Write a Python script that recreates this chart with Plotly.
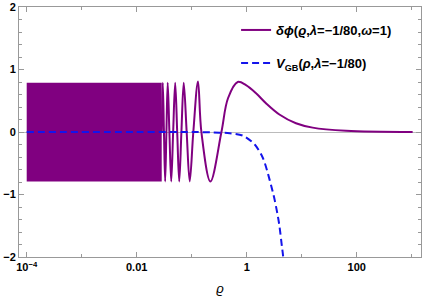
import plotly.graph_objects as go

# ---- data ----
# dense, unresolved oscillation band of delta-phi (rho range and envelope)
band_rho = [1e-4, 0.0285, 0.0285, 1e-4]
band_val = [0.79, 0.79, -0.79, -0.79]

# resolved part of delta-phi: extrema, zero crossings and tail
phi_rho = [0.0285, 0.0298, 0.0313, 0.0329, 0.0347, 0.0366, 0.0393, 0.0424, 0.046,
           0.0501, 0.0545, 0.0593, 0.065, 0.0716, 0.081, 0.092, 0.107, 0.130,
           0.150, 0.219, 0.347, 0.457, 0.686, 0.97, 1.48, 2.24, 3.93, 7.86,
           15.8, 64, 1040]
phi_val = [0.0, 0.79, 0.0, -0.79, 0.0, 0.79, 0.0, -0.79, 0.0,
           0.79, 0.0, -0.79, 0.0, 0.79, 0.0, -0.79, 0.0, 0.81,
           0.0, -0.79, 0.0, 0.54, 0.80, 0.75, 0.62, 0.46, 0.28, 0.14,
           0.07, 0.02, 0.0]

# V_GB potential
v_rho = [1e-4, 0.01, 0.1, 0.32, 0.49, 0.857, 1.40, 1.98, 2.62, 3.23, 3.87, 4.38, 4.57, 4.8]
v_val = [0.0, 0.0, 0.0, -0.01, -0.02, -0.06, -0.2, -0.42, -0.77, -1.09, -1.46, -1.84, -1.97, -2.25]

x_tickvals = [1e-4, 1e-2, 1, 100]
x_ticktext = ["10<sup>−4</sup>", "0.01", "1", "100"]
x_minor = [1e-3, 0.1, 10, 1000]
y_tickvals = [-2, -1, 0, 1, 2]
y_ticktext = ["−2", "−1", "0", "1", "2"]

PURPLE = "rgb(128,0,128)"
BLUE = "rgb(20,20,235)"
FONT = "Liberation Sans"

fig = go.Figure()
fig.add_trace(go.Scatter(x=band_rho, y=band_val, fill="toself", fillcolor=PURPLE,
                         mode="lines", line=dict(width=0, color=PURPLE),
                         showlegend=False, hoverinfo="skip"))
fig.add_trace(go.Scatter(x=phi_rho, y=phi_val, mode="lines",
                         line=dict(color=PURPLE, width=2, shape="spline", smoothing=1.0),
                         name="<b><i>δϕ</i>(<i>ϱ</i>,<i>λ</i>=−1/80,<i>ω</i>=1)</b>",
                         legend="legend"))
fig.add_trace(go.Scatter(x=v_rho, y=v_val, mode="lines",
                         line=dict(color=BLUE, width=2, dash="7px,4px", shape="spline", smoothing=0.8),
                         name="<b><i>V</i><sub>GB</sub>(<i>ρ</i>,<i>λ</i>=−1/80)</b>",
                         legend="legend2"))

axis_common = dict(showline=True, linecolor="#999999", linewidth=1, mirror="ticks",
                   ticks="inside", tickcolor="#999999", ticklen=5, showgrid=False,
                   automargin=False,
                   tickfont=dict(family=FONT, size=11, color="black", weight="bold"))

fig.update_xaxes(type="log", range=[-4.14, 3.169], tickmode="array",
                 tickvals=x_tickvals, ticktext=x_ticktext, zeroline=False,
                 minor=dict(tickvals=x_minor, ticks="inside", ticklen=3, tickcolor="#999999"),
                 title=dict(text="<i>ϱ</i>", font=dict(family=FONT, size=13, color="black"), standoff=11),
                 **axis_common)
fig.update_yaxes(range=[-2, 2], tickmode="array", tickvals=y_tickvals, ticktext=y_ticktext,
                 zeroline=True, zerolinecolor="#bbbbbb", zerolinewidth=1,
                 minor=dict(dtick=0.2, ticks="inside", ticklen=3, tickcolor="#999999"),
                 **axis_common)

legend_common = dict(xanchor="left", yanchor="middle", bgcolor="rgba(0,0,0,0)",
                     font=dict(family=FONT, size=13, color="black"))
fig.update_layout(
    width=426, height=300,
    margin=dict(l=19, r=5, t=7, b=43, autoexpand=False),
    paper_bgcolor="white", plot_bgcolor="white",
    legend=dict(x=0.54, y=0.908, **legend_common),
    legend2=dict(x=0.54, y=0.776, **legend_common),
)

fig.write_html("out.html", config={"displayModeBar": False},
               post_script="document.body.style.margin='0px';")
